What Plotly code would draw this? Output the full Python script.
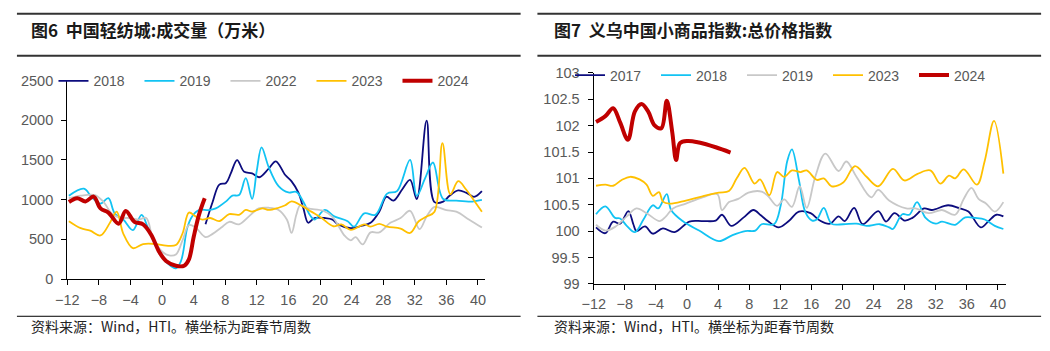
import plotly.graph_objects as go

W, H = 1050, 351

# ---------------- data: left panel (中国轻纺城 成交量, 万米) ----------------
week_ticks = list(range(-12, 41, 4))
L_ytick = [0, 500, 1000, 1500, 2000, 2500]

L2018_x = [5.5, 6.4, 7.25, 8.1, 8.7, 9.5, 10.4, 11.4, 12.3, 13.5, 14.4, 15.6, 16.4, 17.25, 17.9, 18.5,
           19.3, 20.6, 21.6, 22.25, 23.9, 25.2, 26.4, 27.5, 28.4, 29.3, 30.4, 31.4, 32.25, 33.5, 34.5,
           35.6, 36.4, 37.5, 38.5, 39.5, 40.5]
L2018_y = [689, 970, 1190, 1210, 1330, 1499, 1350, 1330, 1282, 1390, 1483, 1310, 1230, 1090, 890, 709,
           769, 769, 749, 690, 640, 668, 708, 848, 1036, 988, 1128, 1248, 1008, 1996, 968,
           976, 1048, 1116, 1088, 1036, 1108]

L2019_x = [-11.8, -9.9, -8.9, -7.8, -6.8, -6.0, -4.9, -3.7, -2.6, -1.8, -0.75, 0.5, 1.75, 2.4, 3.2, 3.8,
           4.67, 5.9, 6.8, 8.1, 8.9, 9.75, 10.6, 11.4, 12.0, 12.6, 13.5, 14.75, 16.0, 17.0, 17.9, 18.7,
           19.3, 20.6, 21.8, 23.5, 24.3, 25.6, 27.0, 28.5, 29.75, 31.4, 32.25, 33.3, 34.3, 35.6, 37.25,
           39.3, 40.5]
L2019_y = [1050, 1138, 1030, 950, 1018, 829, 749, 617, 809, 649, 409, 216, 136, 228, 649, 789,
           869, 869, 890, 978, 1050, 1058, 1270, 1010, 1370, 1659, 1410, 1170, 1090, 1098, 970, 809,
           749, 870, 790, 728, 660, 828, 808, 1076, 1108, 1500, 1048, 1268, 1468, 1008, 988,
           976, 996]

L2022_x = [-11.8, -10.3, -8.5, -7.4, -6.4, -5.3, -4.3, -3.0, -2.0, -1.2, 0.1, 0.9, 1.75, 2.6, 3.4, 4.25,
           5.5, 6.4, 7.5, 8.5, 9.75, 11.0, 12.25, 13.5, 14.75, 15.8, 16.4, 17.0, 17.5, 18.5, 20.4, 21.6,
           23.1, 23.9, 24.5, 25.4, 26.4, 27.5, 28.9, 30.2, 31.4, 32.6, 33.5, 34.5, 36.0, 37.25, 38.9, 40.5]
L2022_y = [1018, 1050, 1058, 970, 829, 769, 769, 749, 769, 529, 337, 297, 309, 489, 681, 649,
           529, 569, 649, 721, 689, 789, 890, 898, 870, 749, 581, 809, 930, 890, 860, 780,
           548, 488, 528, 436, 588, 588, 708, 768, 860, 628, 788, 908, 868, 848, 748, 648]

L2023_x = [-11.8, -10.3, -9.1, -7.8, -6.6, -5.75, -4.9, -3.7, -2.4, -0.75, 0.5, 1.75, 2.6, 3.4, 4.25, 5.1,
           6.1, 7.25, 8.5, 9.75, 10.6, 11.4, 12.7, 13.5, 14.75, 15.6, 16.4, 17.7, 18.9, 20.2, 21.7, 22.7,
           23.9, 25.6, 26.4, 27.5, 28.5, 30.2, 31.4, 32.5, 33.5, 34.5, 35.5, 36.5, 37.5, 38.5, 39.5, 40.5]
L2023_y = [729, 641, 609, 549, 709, 849, 569, 389, 441, 441, 421, 429, 577, 837, 789, 749,
           769, 729, 817, 809, 870, 849, 890, 870, 898, 930, 978, 922, 849, 769, 665, 688,
           620, 688, 660, 696, 660, 636, 580, 728, 788, 848, 1712, 1068, 1232, 1128, 988, 848]

L2024_x = [-11.8, -10.75, -9.7, -8.67, -7.8, -6.8, -5.5, -4.6, -3.5, -2.4, -1.4, -0.33, 0.5, 1.75, 2.8,
           3.4, 4.0, 4.67, 5.4]
L2024_y = [970, 1018, 978, 1038, 890, 837, 697, 857, 721, 689, 561, 337, 228, 168, 168,
           248, 529, 809, 1018]

# ---------------- data: right panel (义乌中国小商品指数 总价格指数) ----------------
R_ytick = [99, 99.5, 100, 100.5, 101, 101.5, 102, 102.5, 103]
R_yticktext = ["99", "99.5", "100", "100.5", "101", "101.5", "102", "102.5", "103"]

R2017_x = [-11.7, -10.5, -9.5, -8.6, -7.55, -6.9, -6.5, -5.4, -4.4, -3.1, -1.6, 0.3, 2.0, 3.7, 4.5, 5.7,
           7.3, 8.55, 9.5, 10.4, 11.8, 13.1, 14.4, 15.9, 17.1, 18.4, 19.5, 20.3, 21.5, 22.6, 24.6, 25.6,
           26.7, 28.0, 29.0, 30.5, 31.5, 33.6, 35.1, 36.2, 37.8, 38.8, 39.8, 40.7]
R2017_y = [100.07, 99.96, 100.18, 100.14, 100.38, 100.13, 100.0, 100.09, 99.95, 100.05, 99.98, 100.18,
           100.19, 100.2, 100.31, 100.10, 100.26, 100.40, 100.3, 100.19, 100.07, 100.19, 100.37, 100.34,
           100.20, 100.14, 100.28, 100.19, 100.44, 100.13, 100.38, 100.18, 100.34, 100.20, 100.25, 100.43,
           100.40, 100.49, 100.43, 100.37, 100.07, 100.19, 100.31, 100.28]

R2018_x = [-11.7, -10.5, -9.25, -8.6, -7.75, -6.7, -5.6, -4.4, -3.7, -2.6, -2.04, -0.56, 1.56, 4.1, 5.8,
           7.5, 8.8, 9.6, 11.2, 12.06, 12.9, 13.5, 14.4, 15.2, 16.1, 16.7, 17.6, 18.6, 20.1, 21.8, 23.1,
           24.8, 26.0, 26.5, 27.7, 28.6, 29.6, 30.7, 32.0, 32.8, 34.5, 35.8, 37.1, 38.3, 39.6, 40.7]
R2018_y = [100.32, 100.47, 100.25, 100.24, 100.10, 99.98, 100.22, 100.49, 100.43, 100.70, 100.40, 100.19,
           100.01, 99.81, 99.92, 100.0, 100.01, 100.13, 100.13, 100.49, 101.33, 101.55, 100.97, 100.37,
           100.20, 100.22, 100.44, 100.14, 100.13, 100.14, 100.10, 100.13, 100.07, 100.04, 100.32, 100.31,
           100.55, 100.25, 100.14, 100.18, 100.12, 100.26, 100.25, 100.22, 100.10, 100.04]

R2019_x = [-11.7, -10.5, -9.25, -7.75, -6.5, -5.2, -3.5, -2.7, -1.8, -0.14, 2.0, 3.9, 4.5, 5.4, 6.6, 7.9,
           9.6, 10.4, 11.6, 12.5, 13.5, 14.5, 15.4, 16.5, 17.8, 19.5, 20.5, 21.8, 23.7, 24.6, 26.0, 28.2,
           29.4, 31.1, 32.8, 34.5, 35.6, 36.6, 37.5, 38.5, 39.6, 40.7]
R2019_y = [100.12, 100.01, 100.08, 100.28, 100.43, 100.34, 100.19, 100.28, 100.43, 100.52, 100.64, 100.70,
           100.40, 100.55, 100.61, 100.73, 100.75, 100.67, 100.48, 100.60, 100.46, 100.85, 100.44, 101.03,
           101.47, 101.14, 101.32, 101.03, 100.64, 100.78, 100.58, 100.43, 100.43, 100.34, 100.40, 100.31,
           100.61, 100.82, 100.61, 100.52, 100.37, 100.55]

R2023_x = [-11.7, -10.5, -9.5, -8.4, -7.3, -6.1, -5.2, -4.4, -3.6, -3.1, -2.25, -0.14, 2.0, 4.1, 5.4, 6.4,
           7.4, 8.7, 9.4, 10.6, 11.6, 12.5, 13.5, 14.6, 15.4, 16.7, 17.6, 18.6, 20.1, 21.6, 23.1, 24.6,
           26.5, 27.95, 29.6, 31.3, 32.6, 33.7, 34.5, 35.6, 37.3, 38.3, 39.5, 40.7]
R2023_y = [100.86, 100.88, 100.86, 100.97, 101.03, 100.98, 100.88, 100.67, 100.74, 100.56, 100.52, 100.58,
           100.66, 100.73, 100.76, 101.0, 101.2, 100.90, 100.98, 100.68, 101.12, 101.03, 101.15, 101.12,
           101.15, 100.97, 101.0, 100.85, 100.92, 101.23, 101.03, 100.85, 101.18, 100.96, 101.08, 101.15,
           100.90, 101.05, 101.0, 101.17, 100.88, 101.33, 102.09, 101.09]

R2024_x = [-11.7, -10.5, -9.5, -8.6, -7.6, -6.7, -5.85, -5.0, -4.2, -3.3, -2.6, -1.9, -1.4, -0.9, 0.08,
           1.56, 3.7, 5.6]
R2024_y = [102.07, 102.18, 102.33, 102.06, 101.73, 102.27, 102.41, 102.27, 102.01, 101.95, 102.47, 101.88,
           101.35, 101.67, 101.71, 101.68, 101.59, 101.49]

# ---------------- styling ----------------
NAVY = "#0C0C7E"
CYAN = "#12C3F3"
GREY = "#C8C8C8"
GOLD = "#FFC000"
RED = "#C00000"
TXT = "#595959"
FONT = "Liberation Sans, Arial, sans-serif"
CJK = "Noto Sans CJK SC, sans-serif"

fig = go.Figure()

left = [("2018", L2018_x, L2018_y, NAVY, 1.8), ("2019", L2019_x, L2019_y, CYAN, 1.8),
        ("2022", L2022_x, L2022_y, GREY, 1.8), ("2023", L2023_x, L2023_y, GOLD, 1.8),
        ("2024", L2024_x, L2024_y, RED, 4)]
right = [("2017", R2017_x, R2017_y, NAVY, 1.8), ("2018", R2018_x, R2018_y, CYAN, 1.8),
         ("2019", R2019_x, R2019_y, GREY, 1.8), ("2023", R2023_x, R2023_y, GOLD, 1.8),
         ("2024", R2024_x, R2024_y, RED, 4)]

for name, xs, ys, c, w in left:
    fig.add_trace(go.Scatter(x=xs, y=ys, name=name, mode="lines",
                             line=dict(color=c, width=w, shape="spline", smoothing=1),
                             xaxis="x", yaxis="y", legend="legend"))
for name, xs, ys, c, w in right:
    fig.add_trace(go.Scatter(x=xs, y=ys, name=name, mode="lines",
                             line=dict(color=c, width=w, shape="spline", smoothing=1),
                             xaxis="x2", yaxis="y2", legend="legend2"))


def px(v):
    return v / W


def py(v):
    return 1 - v / H


axis_common = dict(showgrid=False, zeroline=False, showline=True, linecolor="#000000", linewidth=1.3,
                   ticks="outside", ticklen=5, tickcolor="#000000", tickwidth=1.2,
                   tickfont=dict(family=FONT, size=14.5, color=TXT))

fig.update_layout(
    width=W, height=H, autosize=False, margin=dict(l=0, r=0, t=0, b=0),
    paper_bgcolor="white", plot_bgcolor="white", showlegend=True,
    xaxis=dict(domain=[px(56), px(479)], range=[-12, 40.9], tickvals=week_ticks, anchor="y",
               ticklabelstandoff=2, **axis_common),
    yaxis=dict(domain=[py(284), py(76)], range=[0, 2500], tickvals=L_ytick, anchor="x",
               ticklabelstandoff=5, **axis_common),
    xaxis2=dict(domain=[px(589), px(1006.7)], range=[-12, 41.07], tickvals=week_ticks, anchor="y2",
                ticklabelstandoff=2, **axis_common),
    yaxis2=dict(domain=[py(289), py(68)], range=[99, 103], tickvals=R_ytick, ticktext=R_yticktext,
                anchor="x2", ticklabelstandoff=5, **axis_common),
    legend=dict(orientation="h", x=px(42), xanchor="left", y=py(76.7), yanchor="middle",
                entrywidth=41, entrywidthmode="pixels", bgcolor="rgba(0,0,0,0)",
                font=dict(family=FONT, size=14, color=TXT)),
    legend2=dict(orientation="h", x=px(565), xanchor="left", y=py(70.7), yanchor="middle",
                 entrywidth=41, entrywidthmode="pixels", bgcolor="rgba(0,0,0,0)",
                 font=dict(family=FONT, size=14, color=TXT)),
)

# header / footer rules
shapes = []
for x0, x1 in [(5, 515), (532, 1042)]:
    shapes.append(dict(type="line", xref="paper", yref="paper", x0=px(x0), x1=px(x1), y0=py(6), y1=py(6),
                       line=dict(color="#333333", width=2)))
    shapes.append(dict(type="line", xref="paper", yref="paper", x0=px(x0), x1=px(x1), y0=py(50), y1=py(50),
                       line=dict(color="#333333", width=2)))
    shapes.append(dict(type="line", xref="paper", yref="paper", x0=px(x0), x1=px(x1), y0=py(323), y1=py(323),
                       line=dict(color="#000000", width=1)))
fig.update_layout(shapes=shapes)

ann = [
    dict(text="<b>图6  中国轻纺城:成交量（万米）</b>", x=px(17), y=py(23)),
    dict(text="<b>图7  义乌中国小商品指数:总价格指数</b>", x=px(547), y=py(23)),
]
for a in ann:
    fig.add_annotation(text=a["text"], x=a["x"], y=a["y"], xref="paper", yref="paper", xanchor="left",
                       yanchor="middle", showarrow=False, font=dict(family=CJK, size=17, color="#1a1a1a"))
for x0 in [17, 547]:
    fig.add_annotation(text="资料来源：Wind，HTI。横坐标为距春节周数", x=px(x0), y=py(333), xref="paper",
                       yref="paper", xanchor="left", yanchor="middle", showarrow=False,
                       font=dict(family=CJK, size=14, color="#222222"))

fig.write_html("out.html")
